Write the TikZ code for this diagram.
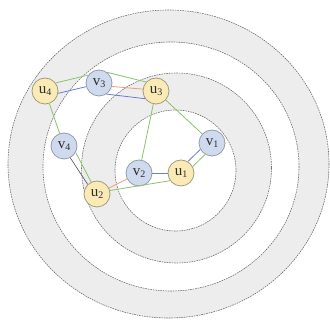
\documentclass[tikz,border=0pt]{standalone}
\usepackage{fontspec}
\setmainfont{Liberation Serif}
\definecolor{ringgray}{HTML}{EDEDED}
\definecolor{circline}{HTML}{707070}
\definecolor{ufill}{HTML}{F9EAB6}
\definecolor{udraw}{HTML}{A39C7C}
\definecolor{vfill}{HTML}{CFDAEE}
\definecolor{vdraw}{HTML}{959DAD}
\definecolor{egreen}{HTML}{8CC36A}
\definecolor{eblue}{HTML}{6E7CCF}
\definecolor{eorange}{HTML}{EE9E72}
\definecolor{edark}{HTML}{606068}
\definecolor{txt}{HTML}{2E2E2E}
\newcommand{\lbl}[2]{#1\raisebox{-0.35ex}{\fontsize{10}{10}\selectfont #2}}
\begin{document}
\begin{tikzpicture}[x=1pt,y=-1pt,
  ringline/.style={draw=circline, line width=0.6pt, dash pattern=on 1.6pt off 0.9pt},
  basenode/.style={circle, minimum size=26pt, inner sep=0pt, line width=0.8pt, text=txt, font=\fontsize{15}{15}\selectfont},
  unode/.style={basenode, draw=udraw, fill=ufill},
  vnode/.style={basenode, draw=vdraw, fill=vfill},
  gedge/.style={draw=egreen, line width=0.8pt},
  bedge/.style={draw=eblue, line width=0.8pt},
  oedge/.style={draw=eorange, line width=0.8pt},
  dedge/.style={draw=edark, line width=0.7pt}]
\useasboundingbox (0,0) rectangle (330,323);
% rings
\fill[ringgray] (168.5,164) ellipse [x radius=160.5, y radius=154];
\fill[white] (171,166.5) ellipse [x radius=128, y radius=124.5];
\fill[ringgray] (176.5,168) circle [radius=95];
\fill[white] (175.5,170.5) circle [radius=60.5];
\draw[ringline] (168.5,164) ellipse [x radius=160.5, y radius=154];
\draw[ringline] (171,166.5) ellipse [x radius=128, y radius=124.5];
\draw[ringline] (176.5,168) circle [radius=95];
\draw[ringline] (175.5,170.5) circle [radius=60.5];
% nodes
\node[unode] (u4) at (45,91) {\lbl{u}{4}};
\node[vnode] (v3) at (99,83) {\lbl{v}{3}};
\node[unode] (u3) at (156,91) {\lbl{u}{3}};
\node[vnode] (v4) at (64,146) {\lbl{v}{4}};
\node[vnode] (v1) at (212,143) {\lbl{v}{1}};
\node[vnode] (v2) at (139,173) {\lbl{v}{2}};
\node[unode] (u1) at (181,173) {\lbl{u}{1}};
\node[unode] (u2) at (97,194) {\lbl{u}{2}};
% edges
\draw[gedge] (u4.37) -- (v3.144);
\draw[bedge] (u4.-10) -- (v3.196);
\draw[gedge] (v3.53) -- (u3.138);
\draw[oedge] (v3.-15) -- (u3.172);
\draw[bedge] (v3.-56) -- (u3.215);
\draw[gedge] (u3) -- (v2);
\draw[gedge] (u3) -- (v1);
\draw[bedge] (v1.209) -- (u1.59);
\draw[gedge] (v1.239) -- (u1.29);
\draw[bedge] (v2) -- (u1);
\draw[gedge] (u2.15) -- (u1.215);
\draw[oedge] (u2) -- (v2);
\draw[gedge] (u4) -- (v4);
\draw[gedge] (v4.-29) -- (u2.116);
\draw[dedge] (v4.-62) -- (u2.134);
\end{tikzpicture}
\end{document}
